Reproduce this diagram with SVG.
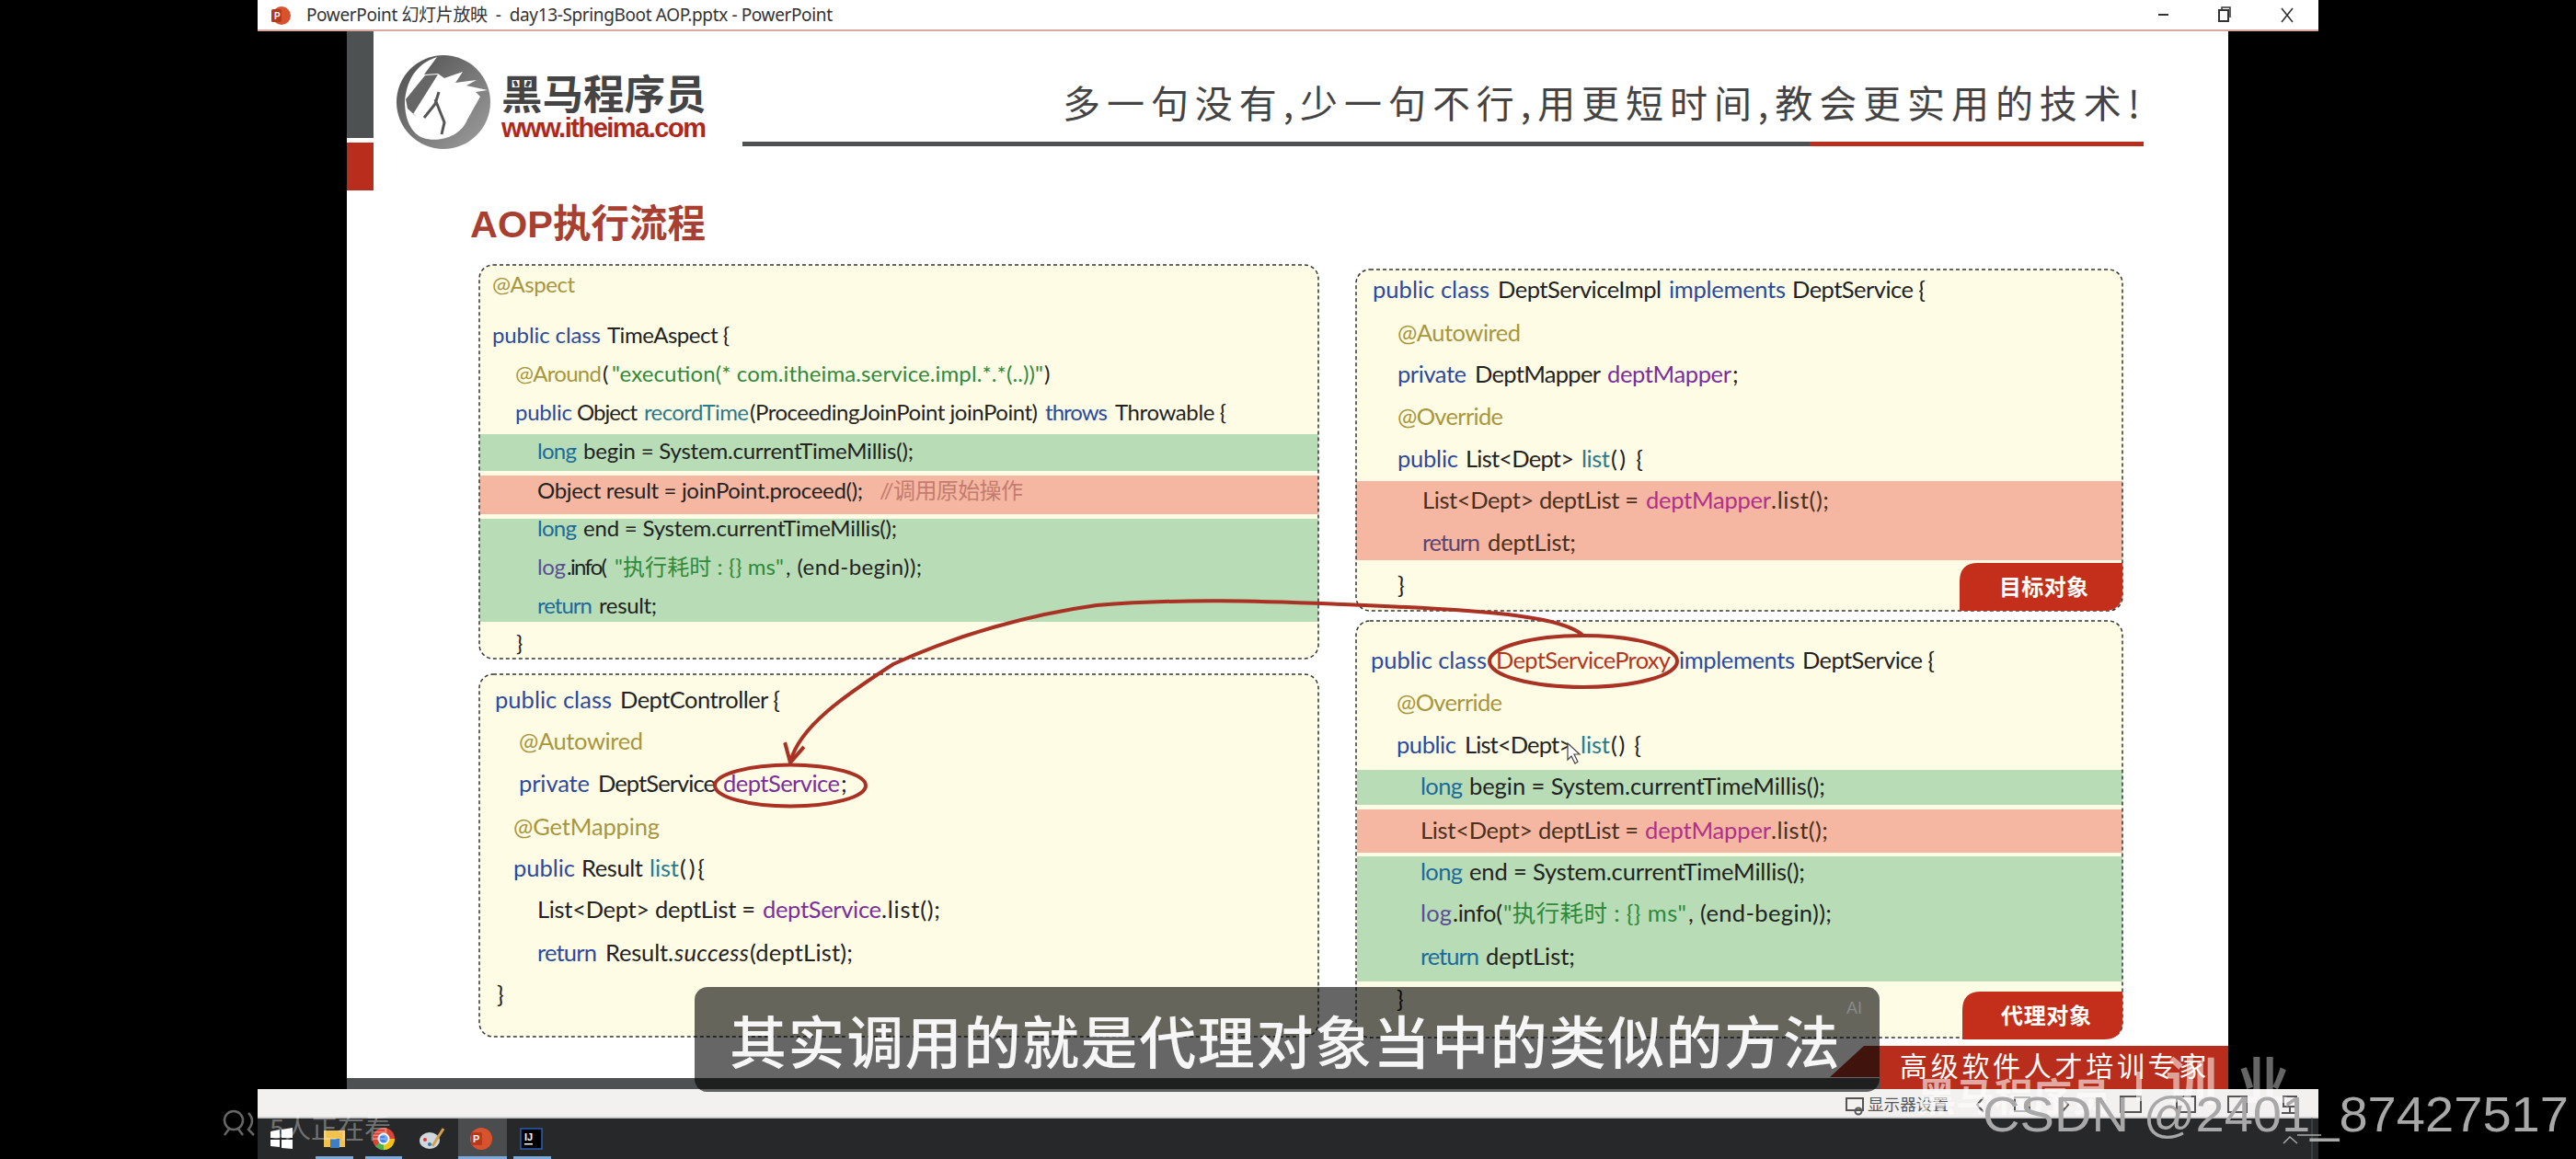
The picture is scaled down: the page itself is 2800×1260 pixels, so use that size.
<svg xmlns="http://www.w3.org/2000/svg" width="2800" height="1260" viewBox="0 0 2800 1260">
<style>
text{white-space:pre}
.code{font-family:"Lato","Noto Sans CJK SC",sans-serif;font-size:25.500px;fill:#222}
.sm{font-size:24px}
.k{fill:#2a4aa0}.a{fill:#a8963c}.s{fill:#2f8a3a}.p{fill:#7a2e9e}.m{fill:#2b7a8a}
.gk{fill:#1c6a9c}.gp{fill:#5a4f96}.rk{fill:#5c4470}.rp{fill:#b0308a}.c{fill:#c47c70}.rx{fill:#b5351f}
.t{fill:#4a3020}
.box{fill:#fffce6}.line{fill:none;stroke:#333;stroke-width:1.5;stroke-dasharray:4 3}
.gb{fill:#b7dcb6}.rb{fill:#f5b7a1}
.badge{fill:#c32f1b}
.bt{font-family:"Noto Sans CJK SC",sans-serif;font-weight:700;font-size:24px;fill:#fff}
.oval{fill:none;stroke:#a93224;stroke-width:4}
.ui{font-family:"Noto Sans CJK SC",sans-serif}
.ic{fill:none;stroke:#555;stroke-width:2}
</style>
<defs>
<marker id="arrow" markerUnits="userSpaceOnUse" markerWidth="24" markerHeight="24" refX="16" refY="9" viewBox="0 0 18 18" orient="auto"><path d="M1,1 L16,9 L1,17" fill="none" stroke="#a93224" stroke-width="3"/></marker>
<linearGradient id="ring" x1="0" y1="0" x2="1" y2="1"><stop offset="0" stop-color="#4c4c4c"/><stop offset="1" stop-color="#a0a0a0"/></linearGradient>
</defs>
<rect width="2800" height="1260" fill="#000"/>
<g id="slide">
<rect x="377" y="34" width="2045" height="1138" fill="#fff"/>
<rect x="377" y="1172" width="1700" height="12" fill="#4d5152"/>
<rect x="377" y="34" width="29" height="116" fill="#4d5152"/>
<rect x="377" y="155" width="29" height="52" fill="#b92d1c"/>
<rect x="807" y="154" width="1160" height="5" fill="#4d5152"/>
<rect x="1967" y="154" width="363" height="5" fill="#b92d1c"/>
<text x="1155" y="128" font-family="'Noto Sans CJK SC',sans-serif" font-size="41" textLength="1171" fill="#444">多一句没有,少一句不行,用更短时间,教会更实用的技术!</text>
<text x="511" y="258" font-family="'Liberation Sans','Noto Sans CJK SC',sans-serif" font-weight="700" font-size="41.5" fill="#a93f30">AOP执行流程</text>
</g>
<g id="logo">
<circle cx="482" cy="111" r="51" fill="url(#ring)"/>
<path d="M475,62 C450,70 442,90 440,110 C440,130 447,145 460,150 C475,155 500,150 508,130 L522,105 L517,100 L530,98 L507,93 L518,87 L495,90 L503,78 L483,85 L476,80 L461,81 Z" fill="#fff"/>
<path d="M462,82 L476,81 L449,124 L454,128 L443,118 L441,108 Z" fill="#666"/>
<path d="M477,100 L473,113 L461,128 M473,108 L483,133 L480,146" fill="none" stroke="#555" stroke-width="3"/>
<text x="545" y="119" font-family="'Noto Sans CJK SC',sans-serif" font-weight="700" font-size="44.5" fill="#444">黑马程序员</text>
<text x="545" y="149" font-family="'Liberation Sans',sans-serif" font-weight="700" font-size="29" textLength="223" fill="#b0281c">www.itheima.com</text>
</g>
<g id="node-time-aspect">
<rect class="box" x="521" y="288" width="912" height="428" rx="15"/>
<rect class="gb" x="521" y="472" width="912" height="40"/>
<rect class="rb" x="521" y="517" width="912" height="42"/>
<rect class="gb" x="521" y="564" width="912" height="112"/>
<rect class="line" x="521" y="288" width="912" height="428" rx="15"/>
<text class="code sm a" x="535" y="318" textLength="90">@Aspect</text>
<text class="code sm" y="373"><tspan class="k" x="535" textLength="118">public class</tspan><tspan x="660" textLength="133">TimeAspect {</tspan></text>
<text class="code sm" y="415"><tspan class="a" x="560" textLength="94">@Around</tspan><tspan x="655">(</tspan><tspan class="s" x="665" textLength="469">"execution(* com.itheima.service.impl.*.*(..))"</tspan><tspan x="1135">)</tspan></text>
<text class="code sm" y="457"><tspan class="k" x="560" textLength="62">public</tspan><tspan x="627" textLength="66">Object</tspan><tspan class="m" x="700" textLength="114">recordTime</tspan><tspan x="815" textLength="313">(ProceedingJoinPoint joinPoint)</tspan><tspan class="k" x="1136" textLength="68">throws</tspan><tspan x="1212" textLength="121">Throwable {</tspan></text>
<text class="code sm" y="499"><tspan class="gk" x="584" textLength="43">long</tspan><tspan x="634" textLength="359">begin = System.currentTimeMillis();</tspan></text>
<text class="code sm" y="542"><tspan x="584" textLength="354">Object result = joinPoint.proceed();</tspan><tspan class="c" x="956" textLength="156">//调用原始操作</tspan></text>
<text class="code sm" y="583"><tspan class="gk" x="584" textLength="43">long</tspan><tspan x="634" textLength="341">end = System.currentTimeMillis();</tspan></text>
<text class="code sm" y="625"><tspan class="gp" x="584" textLength="31">log</tspan><tspan x="616" textLength="44">.info(</tspan><tspan class="s" x="668" textLength="184">"执行耗时 : {} ms"</tspan><tspan x="854" textLength="148">, (end-begin));</tspan></text>
<text class="code sm" y="667"><tspan class="gk" x="584" textLength="60">return</tspan><tspan x="651" textLength="63">result;</tspan></text>
<text class="code sm" x="561" y="708">}</text>
</g>
<g id="node-dept-controller">
<rect class="box" x="521" y="733" width="912" height="394" rx="15"/>
<rect class="line" x="521" y="733" width="912" height="394" rx="15"/>
<text class="code" y="770"><tspan class="k" x="538" textLength="127">public class</tspan><tspan x="674" textLength="174">DeptController {</tspan></text>
<text class="code a" x="564" y="815" textLength="135">@Autowired</text>
<text class="code" y="861"><tspan class="k" x="564" textLength="77">private</tspan><tspan x="650" textLength="128">DeptService</tspan><tspan class="p" x="786" textLength="127">deptService</tspan><tspan x="914">;</tspan></text>
<text class="code a" x="558" y="908" textLength="159">@GetMapping</text>
<text class="code" y="953"><tspan class="k" x="558" textLength="67">public</tspan><tspan x="632" textLength="67">Result</tspan><tspan class="m" x="706" textLength="32">list</tspan><tspan x="739" textLength="27">(){</tspan></text>
<text class="code" y="998"><tspan x="584" textLength="237">List&lt;Dept&gt; deptList =</tspan><tspan class="p" x="829" textLength="129">deptService</tspan><tspan x="958" textLength="64">.list();</tspan></text>
<text class="code" y="1045"><tspan class="k" x="584" textLength="65">return</tspan><tspan x="658" textLength="74">Result.</tspan><tspan font-style="italic" x="733" textLength="81">success</tspan><tspan x="815" textLength="112">(deptList);</tspan></text>
<text class="code" x="540" y="1090">}</text>
</g>
<g id="node-dept-service-impl">
<rect class="box" x="1474" y="293" width="833" height="371" rx="15"/>
<rect class="rb" x="1474" y="523" width="833" height="86"/>
<rect class="line" x="1474" y="293" width="833" height="371" rx="15"/>
<text class="code" y="324"><tspan class="k" x="1492" textLength="127">public class</tspan><tspan x="1628" textLength="178">DeptServiceImpl</tspan><tspan class="k" x="1814" textLength="127">implements</tspan><tspan x="1948" textLength="145">DeptService {</tspan></text>
<text class="code a" x="1519" y="371" textLength="134">@Autowired</text>
<text class="code" y="416"><tspan class="k" x="1519" textLength="75">private</tspan><tspan x="1603" textLength="137">DeptMapper</tspan><tspan class="p" x="1747" textLength="135">deptMapper</tspan><tspan x="1883">;</tspan></text>
<text class="code a" x="1519" y="462" textLength="115">@Override</text>
<text class="code" y="508"><tspan class="k" x="1519" textLength="66">public</tspan><tspan x="1593" textLength="118">List&lt;Dept&gt;</tspan><tspan class="m" x="1719" textLength="31">list</tspan><tspan x="1751" textLength="35">() {</tspan></text>
<text class="code" y="553"><tspan class="t" x="1546" textLength="235">List&lt;Dept&gt; deptList =</tspan><tspan class="rp" x="1789" textLength="136">deptMapper</tspan><tspan class="t" x="1925" textLength="63">.list();</tspan></text>
<text class="code" y="599"><tspan class="rk" x="1546" textLength="63">return</tspan><tspan class="t" x="1617" textLength="96">deptList;</tspan></text>
<text class="code" x="1519" y="645">}</text>
<path class="badge" d="M2150,612 H2307 V644 Q2307,664 2287,664 H2130 V632 Q2130,612 2150,612 Z"/>
<text class="bt" x="2173" y="647" textLength="97">目标对象</text>
</g>
<g id="node-dept-service-proxy">
<rect class="box" x="1474" y="675" width="833" height="453" rx="15"/>
<rect class="gb" x="1475" y="837" width="832" height="38"/>
<rect class="rb" x="1475" y="880" width="832" height="47"/>
<rect class="gb" x="1475" y="931" width="832" height="136"/>
<rect class="line" x="1474" y="675" width="833" height="453" rx="15"/>
<text class="code" y="727"><tspan class="k" x="1490" textLength="126">public class</tspan><tspan class="rx" x="1626" textLength="190">DeptServiceProxy</tspan><tspan class="k" x="1825" textLength="126">implements</tspan><tspan x="1959" textLength="144">DeptService {</tspan></text>
<text class="code a" x="1518" y="773" textLength="115">@Override</text>
<text class="code" y="819"><tspan class="k" x="1518" textLength="65">public</tspan><tspan x="1592" textLength="117">List&lt;Dept&gt;</tspan><tspan class="m" x="1718" textLength="32">list</tspan><tspan x="1751" textLength="33">() {</tspan></text>
<text class="code" y="864"><tspan class="gk" x="1544" textLength="46">long</tspan><tspan x="1597" textLength="387">begin = System.currentTimeMillis();</tspan></text>
<text class="code" y="912"><tspan class="t" x="1544" textLength="237">List&lt;Dept&gt; deptList =</tspan><tspan class="rp" x="1788" textLength="137">deptMapper</tspan><tspan class="t" x="1925" textLength="62">.list();</tspan></text>
<text class="code" y="957"><tspan class="gk" x="1544" textLength="46">long</tspan><tspan x="1597" textLength="365">end = System.currentTimeMillis();</tspan></text>
<text class="code" y="1002"><tspan class="gp" x="1544" textLength="34">log</tspan><tspan x="1579" textLength="54">.info(</tspan><tspan class="s" x="1634" textLength="199">"执行耗时 : {} ms"</tspan><tspan x="1835" textLength="156">, (end-begin));</tspan></text>
<text class="code" y="1049"><tspan class="gk" x="1544" textLength="64">return</tspan><tspan x="1615" textLength="97">deptList;</tspan></text>
<text class="code" x="1518" y="1095">}</text>
<path class="badge" d="M2153,1078 H2307 V1110 Q2307,1130 2287,1130 H2133 V1098 Q2133,1078 2153,1078 Z"/>
<text class="bt" x="2175" y="1113" textLength="98">代理对象</text>
<path d="M1704,808 L1704,826 L1708,822 L1712,830 L1715,828 L1711,820 L1717,820 Z" fill="#fff" stroke="#444" stroke-width="1.2"/>
</g>
<g id="connectors">
<ellipse class="oval" cx="859" cy="854" rx="82" ry="22.5"/>
<ellipse class="oval" cx="1721" cy="719" rx="102" ry="28"/>
<path d="M1721,691 C1700,672 1640,664 1460,657 C1380,654 1290,650 1192,658 C1120,668 1040,690 971,722 C920,755 868,790 859,829" fill="none" stroke="#a93224" stroke-width="4" marker-end="url(#arrow)"/>
</g>
<g id="footer">
<rect x="2043" y="1137" width="379" height="47" fill="#b92d1c"/>
<polygon points="1989,1171 2026,1137 2043,1137 2043,1171" fill="#a03020"/>
<text class="ui" x="2065" y="1170" font-size="30" letter-spacing="3.7" fill="#fff">高级软件人才培训专家</text>
</g>
<g id="window-chrome">
<rect x="280" y="0" width="2240" height="33" fill="#fff"/>
<rect x="280" y="32" width="2240" height="2" fill="#d9a9a0"/>
<circle cx="306" cy="17" r="10" fill="#d8532d"/>
<rect x="295" y="10" width="11" height="14" rx="1.5" fill="#b5391c"/>
<text x="298" y="21" font-family="'Liberation Sans',sans-serif" font-weight="700" font-size="10" fill="#fff">P</text>
<text x="333" y="23" font-family="'Noto Sans','Noto Sans CJK SC',sans-serif" font-size="19" textLength="572" fill="#333">PowerPoint 幻灯片放映  -  day13-SpringBoot AOP.pptx - PowerPoint</text>
<path d="M2346,16 H2357" stroke="#333" stroke-width="2"/>
<rect x="2412" y="11" width="10" height="12" fill="none" stroke="#333" stroke-width="2"/>
<path d="M2415,11 V8 H2424 V19" fill="none" stroke="#333" stroke-width="1.5"/>
<path d="M2480,9 L2492,24 M2492,9 L2480,24" stroke="#333" stroke-width="1.6"/>
<rect x="280" y="1184" width="2240" height="31" fill="#f3f1f0"/>
<rect x="280" y="1215" width="2240" height="45" fill="#26282a"/>
<rect x="280" y="1214.500" width="2240" height="1.500" fill="#bbb"/>
<rect x="498" y="1216" width="53" height="44" fill="#4a4c4e"/>
<rect x="343" y="1257" width="41" height="3" fill="#7aa9dc"/>
<rect x="397" y="1257" width="40" height="3" fill="#7aa9dc"/>
<rect x="498" y="1257" width="53" height="3" fill="#7aa9dc"/>
<rect x="558" y="1257" width="41" height="3" fill="#7aa9dc"/>
<polygon points="294,1230 304,1228 304,1237 294,1237" fill="#fff"/><polygon points="306,1228 318,1226 318,1237 306,1237" fill="#fff"/><polygon points="294,1239 304,1239 304,1247 294,1246" fill="#fff"/><polygon points="306,1239 318,1239 318,1249 306,1248" fill="#fff"/>
<rect x="352" y="1229" width="23" height="18" fill="#f2c14e"/><rect x="359" y="1238" width="10" height="10" fill="#3d7fc4"/>
<circle cx="417" cy="1238" r="12" fill="#db4437"/><path d="M417,1238 L427,1245 A12,12 0 0 1 408,1246 Z" fill="#4caf50"/><path d="M417,1250 A12,12 0 0 0 429,1238 L417,1238 Z" fill="#f4c20d"/><circle cx="417" cy="1238" r="5.500" fill="#4285f4" stroke="#fff" stroke-width="2"/>
<ellipse cx="467" cy="1240" rx="11" ry="9" fill="#cfd8dc"/><path d="M482,1227 L470,1246" stroke="#d4a04a" stroke-width="3"/><circle cx="462" cy="1239" r="2" fill="#d33"/><circle cx="467" cy="1244" r="2" fill="#37a"/>
<circle cx="523" cy="1238" r="12" fill="#d8532d"/><rect x="512" y="1231" width="12" height="14" rx="1.500" fill="#b5391c"/><text x="514" y="1242" font-family="'Liberation Sans',sans-serif" font-weight="700" font-size="11" fill="#fff">P</text>
<rect x="566" y="1227" width="23" height="22" fill="#000" stroke="#2a5fb0" stroke-width="1.500"/><text x="570" y="1240" font-family="'Liberation Sans',sans-serif" font-weight="700" font-size="11" fill="#fff">IJ</text><rect x="570" y="1243" width="9" height="1.500" fill="#fff"/>
<text class="ui" x="2030" y="1207" font-size="17.600" fill="#555">显示器设置</text>
<rect class="ic" x="2007" y="1194" width="18" height="13"/><circle class="ic" cx="2020" cy="1208" r="3.500"/>
<path class="ic" d="M2156,1193 L2149,1201 L2156,1209 M2241,1193 L2248,1201 L2241,1209"/>
<rect class="ic" x="2190" y="1193" width="16" height="15"/>
<rect class="ic" x="2305" y="1192" width="22" height="17"/>
<rect class="ic" x="2366" y="1192" width="20" height="17"/>
<rect class="ic" x="2422" y="1192" width="20" height="17"/>
<path class="ic" d="M2482,1192 H2496 V1203 H2482 Z M2489,1203 V1210 M2480,1210 H2498"/>
<path d="M2513,1215 V1260" stroke="#555" stroke-width="1"/>
</g>
<g id="subtitle">
<rect x="755" y="1073" width="1288" height="114" rx="14" fill="#000" fill-opacity=".6"/>
<text class="ui" x="793" y="1157" font-size="62" font-weight="500" letter-spacing="1.6" fill="#f6f6f6">其实调用的就是代理对象当中的类似的方法</text>
<text x="2007" y="1102" font-family="'Liberation Sans',sans-serif" font-size="18" fill="#8a8a88">AI</text>
</g>
<g id="overlays">
<text class="ui" x="2084" y="1208" font-size="42" font-weight="700" fill="#fff" fill-opacity=".6">黑马程序员</text>
<rect x="2322" y="1165" width="6" height="32" fill="#fff" fill-opacity=".55"/>
<text class="ui" x="2354" y="1196" font-size="56" font-weight="700" fill="#fff" fill-opacity=".55">训</text>
<text class="ui" x="2432" y="1196" font-size="56" font-weight="700" fill="#fff" fill-opacity=".4">业</text>
<path d="M2497,1234 H2523 M2482,1243 L2489,1236 L2497,1243" stroke="#aaa" stroke-width="1.500" fill="none"/>
<text x="2155" y="1230" font-family="'Liberation Sans',sans-serif" font-size="53" textLength="637" lengthAdjust="spacingAndGlyphs" fill="#a8a8a8">CSDN @2401_87427517</text>
<g fill="none" stroke="#666" stroke-width="2.500"><circle cx="254" cy="1218" r="10"/><path d="M244,1234 L250,1226 M264,1234 L258,1226 M270,1210 Q278,1218 270,1228 L276,1234"/></g>
<text class="ui" x="293" y="1238" font-size="29" fill="#fff" fill-opacity=".35">5人正在看</text>
</g>
</svg>
